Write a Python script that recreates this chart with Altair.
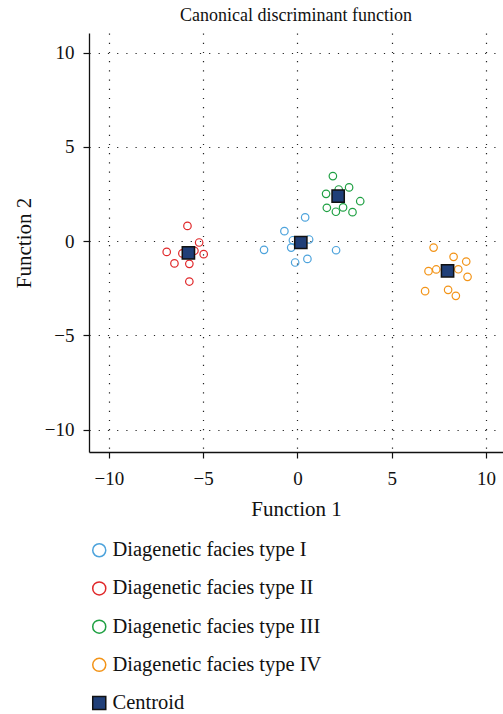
import altair as alt
import pandas as pd

# Discriminant scores per facies group (Function 1, Function 2)
type1_f1 = [0.41, -0.69, -1.77, -0.24, -0.33, 0.62, 0.53, -0.12, 2.05]
type1_f2 = [1.26, 0.53, -0.46, 0.05, -0.34, 0.09, -0.94, -1.13, -0.48]

type2_f1 = [-5.83, -5.21, -6.93, -6.10, -5.46, -4.97, -6.52, -5.73, -5.73]
type2_f2 = [0.81, -0.07, -0.57, -0.65, -0.51, -0.69, -1.18, -1.20, -2.14]

type3_f1 = [1.88, 1.52, 2.19, 2.74, 3.33, 1.56, 2.04, 2.42, 2.92]
type3_f2 = [3.45, 2.51, 2.74, 2.85, 2.12, 1.77, 1.56, 1.79, 1.54]

type4_f1 = [7.22, 8.28, 8.95, 6.95, 7.36, 8.53, 9.02, 6.77, 7.99, 8.40]
type4_f2 = [-0.34, -0.83, -1.08, -1.59, -1.50, -1.49, -1.89, -2.65, -2.58, -2.90]

# Group centroids
centroid_f1 = [0.18, -5.78, 2.16, 7.96]
centroid_f2 = [-0.07, -0.62, 2.39, -1.57]

groups = [
    "Diagenetic facies type I",
    "Diagenetic facies type II",
    "Diagenetic facies type III",
    "Diagenetic facies type IV",
    "Centroid",
]
stroke_colors = ["#4da3dc", "#e0282a", "#1fa043", "#f39418", "#111111"]
fill_colors = ["transparent", "transparent", "transparent", "transparent", "#203f78"]
shapes = ["circle", "circle", "circle", "circle", "square"]
ticks = [-10, -5, 0, 5, 10]

rows = []
for name, xs, ys in [
    (groups[0], type1_f1, type1_f2),
    (groups[1], type2_f1, type2_f2),
    (groups[2], type3_f1, type3_f2),
    (groups[3], type4_f1, type4_f2),
    (groups[4], centroid_f1, centroid_f2),
]:
    for a, b in zip(xs, ys):
        rows.append({"f1": a, "f2": b, "group": name})
df = pd.DataFrame(rows)

FONT = "Liberation Serif"

x_enc = alt.X(
    "f1:Q",
    title="Function 1",
    scale=alt.Scale(domain=[-11.05, 10.9], nice=False, zero=False),
    axis=alt.Axis(values=ticks, format="d", offset=0),
)
y_enc = alt.Y(
    "f2:Q",
    title="Function 2",
    scale=alt.Scale(domain=[-11.18, 11.04], nice=False, zero=False),
    axis=alt.Axis(values=ticks, format="d", offset=0),
)
legend = alt.Legend(
    title=None,
    orient="none",
    legendX=0,
    legendY=507,
    direction="vertical",
    symbolSize=170,
    symbolStrokeWidth=1.5,
    labelFont=FONT,
    labelFontSize=20.5,
    labelColor="#111111",
    labelLimit=0,
    rowPadding=17.2,
    labelOffset=3,
    padding=0,
)
stroke_enc = alt.Stroke(
    "group:N", scale=alt.Scale(domain=groups, range=stroke_colors), legend=legend
)
fill_enc = alt.Fill(
    "group:N", scale=alt.Scale(domain=groups, range=fill_colors), legend=legend
)
shape_enc = alt.Shape(
    "group:N", scale=alt.Scale(domain=groups, range=shapes), legend=legend
)

samples = (
    alt.Chart(df)
    .transform_filter(alt.datum.group != "Centroid")
    .mark_point(size=56, strokeWidth=1.2, opacity=1, filled=True)
    .encode(x=x_enc, y=y_enc, stroke=stroke_enc, fill=fill_enc, shape=shape_enc)
)
centroids = (
    alt.Chart(df)
    .transform_filter(alt.datum.group == "Centroid")
    .mark_point(size=150, strokeWidth=1.5, opacity=1, filled=True)
    .encode(x=x_enc, y=y_enc, stroke=stroke_enc, fill=fill_enc, shape=shape_enc)
)

chart = (
    alt.layer(samples, centroids)
    .properties(
        width=414,
        height=419,
        autosize=alt.AutoSizeParams(type="none"),
        padding={"left": 89, "top": 33, "right": 0, "bottom": 262},
        title=alt.Title(
            "Canonical discriminant function",
            font=FONT,
            fontSize=18,
            fontWeight="normal",
            color="#111111",
            anchor="middle",
            offset=8,
        ),
        background="white",
    )
    .configure_view(stroke=None)
    .configure_axis(
        labelFont=FONT,
        labelFontSize=19,
        labelColor="#111111",
        titleFont=FONT,
        titleFontSize=21,
        titleFontWeight="normal",
        titleColor="#111111",
        domainColor="#111111",
        domainWidth=1.3,
        tickColor="#111111",
        tickSize=6,
        tickWidth=1.2,
        grid=True,
        gridColor="#222222",
        gridDash=[1.2, 8],
        gridWidth=1.2,
    )
    .configure_axisX(labelPadding=11, titlePadding=10)
    .configure_axisY(labelPadding=9, titlePadding=10)
)

chart.save("out.html", embed_options={"renderer": "svg", "actions": False})
